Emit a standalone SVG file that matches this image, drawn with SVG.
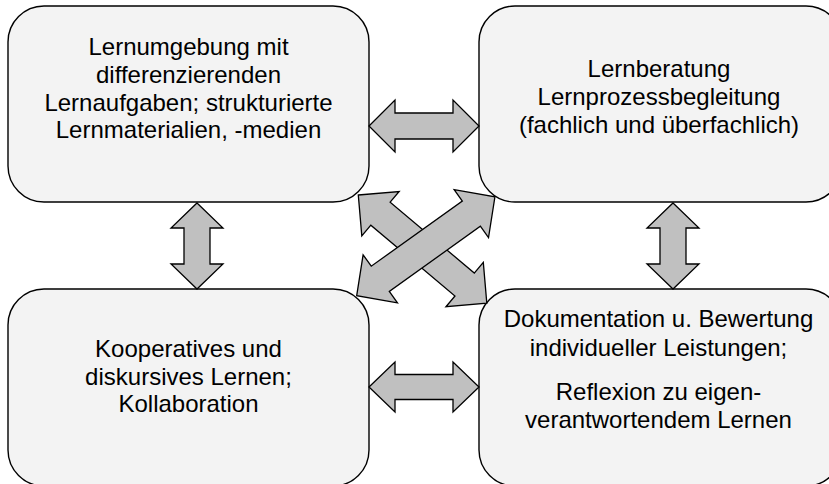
<svg xmlns="http://www.w3.org/2000/svg" width="829" height="484" viewBox="0 0 829 484">
<defs>
<style>
.box{fill:#f3f3f3;stroke:#000;stroke-width:1.4}
.arr{fill:#c0c0c0;stroke:#000;stroke-width:1.3;stroke-linejoin:miter}
.t{font-family:"Liberation Sans",Arial,sans-serif;font-size:24px;fill:#000;text-anchor:middle}
</style>
</defs>
<rect width="829" height="484" fill="#fff"/>
<g id="node-lernumgebung">
<rect class="box" x="8" y="6" width="361" height="196" rx="36" ry="36"/>
<text class="t"><tspan x="188.5" y="55">Lernumgebung mit</tspan><tspan x="188.5" y="83">differenzierenden</tspan><tspan x="188.5" y="110.5">Lernaufgaben; strukturierte</tspan><tspan x="188.5" y="138">Lernmaterialien, -medien</tspan></text>
</g>
<g id="node-lernberatung">
<rect class="box" x="479" y="6" width="363" height="196" rx="36" ry="36"/>
<text class="t"><tspan x="659" y="77">Lernberatung</tspan><tspan x="659" y="105">Lernprozessbegleitung</tspan><tspan x="659" y="133">(fachlich und überfachlich)</tspan></text>
</g>
<g id="node-kooperativ">
<rect class="box" x="8" y="289" width="361" height="197" rx="36" ry="36"/>
<text class="t"><tspan x="188.5" y="357">Kooperatives und</tspan><tspan x="188.5" y="385">diskursives Lernen;</tspan><tspan x="188.5" y="412">Kollaboration</tspan></text>
</g>
<g id="node-dokumentation">
<rect class="box" x="479" y="289" width="363" height="197" rx="36" ry="36"/>
<text class="t"><tspan x="658.5" y="327">Dokumentation u. Bewertung</tspan><tspan x="658.5" y="356">individueller Leistungen;</tspan><tspan x="658.5" y="400">Reflexion zu eigen-</tspan><tspan x="658.5" y="428">verantwortendem Lernen</tspan></text>
</g>
<g id="connectors">
<path class="arr" transform="translate(369,126)" d="M0,0 L26,-26 L26,-13 L84,-13 L84,-26 L110,0 L84,26 L84,13 L26,13 L26,26 Z"/>
<path class="arr" transform="translate(369,387)" d="M0,0 L26,-25 L26,-12.5 L84,-12.5 L84,-25 L110,0 L84,25 L84,12.5 L26,12.5 L26,25 Z"/>
<path class="arr" transform="translate(197,203) rotate(90)" d="M0,0 L25,-26 L25,-13 L61,-13 L61,-26 L86,0 L61,26 L61,13 L25,13 L25,26 Z"/>
<path class="arr" transform="translate(673,203) rotate(90)" d="M0,0 L25,-26 L25,-13 L61,-13 L61,-26 L86,0 L61,26 L61,13 L25,13 L25,26 Z"/>
<path class="arr" transform="translate(358.3,195) rotate(40.1)" d="M0,0 L29,-29 L29,-15 L139,-15 L139,-29 L168,0 L139,29 L139,15 L29,15 L29,29 Z"/>
<path class="arr" transform="translate(356.7,295.7) rotate(-35.6)" d="M0,0 L29,-29.5 L29,-15.5 L141,-15.5 L141,-29.5 L170,0 L141,29.5 L141,15.5 L29,15.5 L29,29.5 Z"/>
</g>
</svg>
